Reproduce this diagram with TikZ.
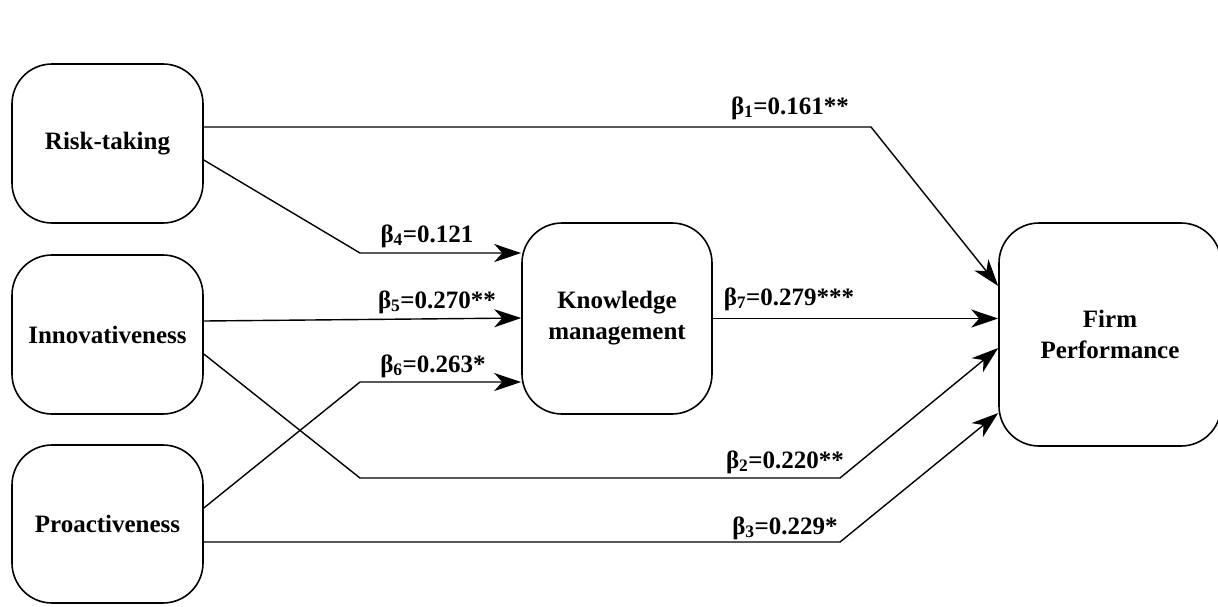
\documentclass[tikz,border=0pt]{standalone}
\usepackage{fontspec}
\setmainfont{Liberation Serif}
\usetikzlibrary{arrows.meta}
\begin{document}
\begin{tikzpicture}[x=1pt,y=-1pt,
  box/.style={draw, line width=1.6pt, rounded corners=40pt, align=center,
    font=\fontsize{25}{31}\selectfont\bfseries, inner sep=0pt},
  arr/.style={line width=1.4pt, -{Stealth[length=27pt,width=18pt,inset=8pt]}},
  lbl/.style={font=\fontsize{25}{30}\selectfont\bfseries, inner sep=0pt}]
\useasboundingbox[fill=white] (0,0) rectangle (1218,606);
\node[box, minimum width=191pt, minimum height=159pt] (risk) at (107.5,143.5) {Risk-taking};
\node[box, minimum width=191pt, minimum height=159pt] (innov) at (107.5,334.5) {Innovativeness};
\node[box, minimum width=191pt, minimum height=158pt] (proact) at (107.5,524) {Proactiveness};
\node[box, minimum width=190pt, minimum height=191pt] (km) at (617,318.5) {Knowledge\\management};
\node[box, minimum width=222pt, minimum height=223pt] (fp) at (1110,334.5) {Firm\\Performance};

\draw[arr] ([yshift=16.5pt]risk.east) -- (871,127) -- ([yshift=48.5pt]fp.west);
\draw[arr] ([yshift=-16.5pt]risk.east) -- (360,253) -- ([yshift=65.5pt]km.west);
\draw[arr] ([yshift=13.5pt]innov.east) -- ([yshift=0.5pt]km.west);
\draw[arr] ([yshift=16pt]proact.east) -- (360,382) -- ([yshift=-63.5pt]km.west);
\draw[arr] (km.east) -- (km.east -| fp.west);
\draw[arr] ([yshift=-19.5pt]innov.east) -- (360,478) -- (840,478) -- ([yshift=-13.5pt]fp.west);
\draw[arr] ([yshift=-18pt]proact.east) -- (840,542) -- ([yshift=-78.5pt]fp.west);

\node[lbl] (b1) at (790,108) {β\textsubscript{1}=0.161**};
\node[lbl] (b4) at (427,236) {β\textsubscript{4}=0.121};
\node[lbl] (b5) at (437,302) {β\textsubscript{5}=0.270**};
\node[lbl] (b6) at (433,366) {β\textsubscript{6}=0.263*};
\node[lbl] (b7) at (789,299) {β\textsubscript{7}=0.279***};
\node[lbl] (b2) at (785,462) {β\textsubscript{2}=0.220**};
\node[lbl] (b3) at (785,528) {β\textsubscript{3}=0.229*};
\end{tikzpicture}
\end{document}
